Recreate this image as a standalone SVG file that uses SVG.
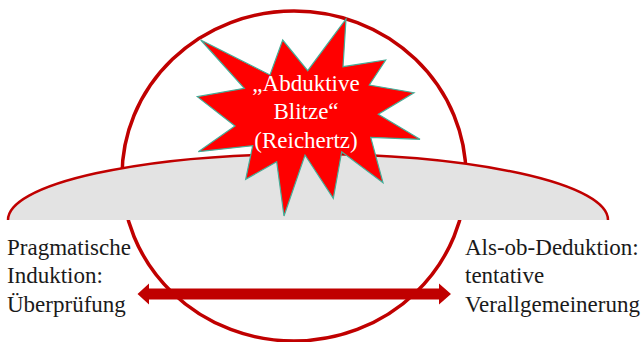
<svg xmlns="http://www.w3.org/2000/svg" width="642" height="342" viewBox="0 0 642 342">
<style>
text{font-family:"Liberation Serif","Times New Roman",serif;font-size:23px;fill:#1a1a1a}
.w{fill:#fff;text-anchor:middle}
</style>
<rect width="642" height="342" fill="#fff"/>
<g id="circle"><ellipse cx="294" cy="176" rx="172" ry="165" fill="none" stroke="#c00000" stroke-width="3.5"/></g>
<g id="segment"><path d="M8 220A300 66 0 0 1 608 220Z" fill="#e3e3e3" stroke="none"/><path d="M8 220A300 66 0 0 1 608 220" fill="none" stroke="#c00000" stroke-width="2.5"/></g>
<g id="star"><polygon points="346,19 343,66.7 385.7,60 369.3,85 414,92.7 378.3,114.3 420,139.3 370.7,137.3 383,182.7 341.7,151.7 333.3,198.3 305,155 284,216 276.7,161.7 245.7,179.3 252.7,145.7 198.3,151.7 235,126 197.3,96.7 244.3,88.3 200.7,40 270,75 282.7,40 307.7,70.7" fill="#ff0000" stroke="#45ad98" stroke-width="1.2" stroke-linejoin="miter"/>
<text class="w" x="306" y="91">„Abduktive</text><text class="w" x="306" y="119">Blitze“</text><text class="w" x="306" y="148">(Reichertz)</text></g>
<g id="connectors"><polygon points="137.5,294 149,283.5 149,288.5 439,288.5 439,283.5 451,294 439,304.5 439,299.5 149,299.5 149,304.5" fill="#c00000"/></g>
<g id="left-label"><text x="7" y="255">Pragmatische</text><text x="7" y="283">Induktion:</text><text x="7" y="312">Überprüfung</text></g>
<g id="right-label"><text x="465" y="255">Als-ob-Deduktion:</text><text x="465" y="283">tentative</text><text x="465" y="312">Verallgemeinerung</text></g>
</svg>
